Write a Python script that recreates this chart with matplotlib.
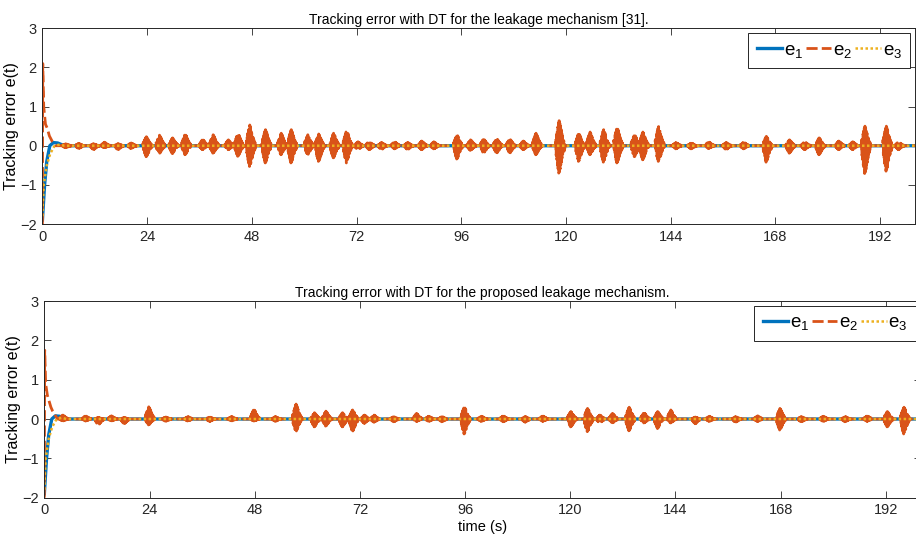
import numpy as np
import matplotlib
matplotlib.use("Agg")
import matplotlib.pyplot as plt

plt.rcParams['font.family'] = ['Liberation Sans', 'DejaVu Sans']
plt.rcParams['mathtext.fontset'] = 'custom'
plt.rcParams['mathtext.rm'] = 'Liberation Sans'
plt.rcParams['mathtext.it'] = 'Liberation Sans'

# colours (MATLAB default order)
c_blue = '#0072BD'
c_orange = '#D95319'
c_yellow = '#EDB120'

titles = ['Tracking error with DT for the leakage mechanism [31].',
          'Tracking error with DT for the proposed leakage mechanism.']
xticks = [0, 24, 48, 72, 96, 120, 144, 168, 192]
yticks = [-2, -1, 0, 1, 2, 3]

# start-up transients
e1_t = [0, 0.5, 1.0, 1.7, 2.5, 3.5, 5.0]
e1_v = [-1.9, -1.0, -0.4, 0.0, 0.08, 0.07, 0.0]
e3_t = [0, 0.3, 1.0, 1.8, 2.8, 4.0, 5.0]
e3_v = [-1.8, -1.0, -0.5, -0.2, 0.0, 0.03, 0.0]

top_e2_t = [0, 0.08, 0.3, 0.7, 1.1, 1.6, 2.3, 3.0]
top_e2_v = [-2.0, 2.1, 1.0, 0.55, 0.45, 0.25, 0.1, 0.0]
bot_e2_t = [0, 0.08, 0.3, 0.7, 1.1, 1.5, 1.9, 3.0]
bot_e2_v = [-2.0, 1.75, 0.9, 0.6, 0.45, 0.3, 0.2, 0.0]

# oscillation bursts of e2: centre time, upper peak, lower peak
top_burst_t = [5.6, 8.6, 12.0, 14.5, 17.6, 20.6, 24.1, 27.1, 30.1, 33.0, 37.0, 39.4,
               42.9, 45.1, 47.8, 51.4, 55.0, 57.3, 61.1, 63.6, 67.0, 70.0, 72.6, 75.2,
               78.0, 81.0, 84.0, 87.2, 90.0, 95.3, 98.4, 101.4, 104.4, 107.4, 110.5,
               113.4, 118.7, 123.2, 125.8, 128.9, 132.0, 136.0, 137.9, 141.5, 145.5,
               149.0, 153.0, 157.0, 161.0, 166.2, 171.5, 175.0, 178.3, 182.8, 186.0,
               188.8, 193.7, 196.5]
top_burst_hi = [0.05, 0.06, 0.05, 0.09, 0.05, 0.07, 0.23, 0.27, 0.2, 0.3, 0.16, 0.28,
                0.15, 0.32, 0.53, 0.41, 0.32, 0.41, 0.28, 0.3, 0.32, 0.39, 0.1, 0.12,
                0.08, 0.1, 0.08, 0.12, 0.1, 0.28, 0.15, 0.17, 0.18, 0.17, 0.12,
                0.32, 0.64, 0.32, 0.35, 0.41, 0.47, 0.28, 0.35, 0.49, 0.08,
                0.07, 0.1, 0.08, 0.09, 0.24, 0.15, 0.1, 0.2, 0.12, 0.1,
                0.5, 0.5, 0.1]
top_burst_lo = [0.05, 0.07, 0.1, 0.05, 0.1, 0.07, 0.28, 0.2, 0.2, 0.23, 0.1, 0.19,
                0.1, 0.27, 0.53, 0.44, 0.23, 0.44, 0.23, 0.4, 0.31, 0.44, 0.1, 0.1,
                0.1, 0.08, 0.1, 0.1, 0.08, 0.34, 0.12, 0.19, 0.19, 0.19, 0.1,
                0.23, 0.7, 0.4, 0.23, 0.42, 0.44, 0.28, 0.36, 0.4, 0.08,
                0.08, 0.07, 0.1, 0.08, 0.42, 0.19, 0.1, 0.23, 0.1, 0.1,
                0.71, 0.65, 0.1]

bot_burst_t = [4.5, 9.7, 12.6, 15.6, 18.5, 24.1, 28.0, 33.0, 38.0, 43.0, 48.1, 53.0,
               57.7, 61.9, 64.5, 68.3, 70.6, 73.3, 75.5, 80.0, 85.2, 88.0, 91.0,
               96.1, 100.0, 105.0, 110.0, 114.0, 120.4, 124.2, 127.0, 129.9, 133.7,
               137.1, 140.2, 143.2, 148.8, 152.0, 158.0, 163.0, 168.1, 173.0, 178.0,
               183.0, 188.0, 192.6, 196.4]
bot_burst_hi = [0.1, 0.08, 0.04, 0.08, 0.04, 0.31, 0.05, 0.06, 0.05, 0.06, 0.25, 0.06,
                0.38, 0.16, 0.2, 0.16, 0.23, 0.1, 0.1, 0.06, 0.14, 0.07, 0.06,
                0.31, 0.07, 0.08, 0.06, 0.08, 0.19, 0.27, 0.1, 0.14, 0.3,
                0.16, 0.19, 0.23, 0.05, 0.07, 0.06, 0.08, 0.27, 0.06, 0.07,
                0.06, 0.08, 0.19, 0.3]
bot_burst_lo = [0.05, 0.05, 0.15, 0.05, 0.12, 0.15, 0.06, 0.05, 0.06, 0.05, 0.05, 0.06,
                0.32, 0.2, 0.18, 0.2, 0.32, 0.11, 0.08, 0.07, 0.06, 0.06, 0.07,
                0.38, 0.06, 0.07, 0.08, 0.06, 0.2, 0.32, 0.1, 0.1, 0.3,
                0.1, 0.24, 0.1, 0.12, 0.06, 0.08, 0.06, 0.28, 0.07, 0.06,
                0.07, 0.06, 0.2, 0.38]

# relative peak sizes inside one burst (alternating up / down)
burst_shape = [0.3, 0.35, 0.45, 0.5, 0.6, 0.7, 0.75, 0.85, 0.9, 1.0, 1.0, 0.95,
               0.9, 0.85, 0.8, 0.7, 0.65, 0.6, 0.5, 0.45, 0.4, 0.35, 0.3, 0.25,
               0.2, 0.2, 0.15, 0.1]
burst_half = 1.1
t_end = 200


def build_e2(t0, v0, bt, hi, lo):
    t = list(t0)
    v = list(v0)
    n = len(burst_shape)
    for c, a, b in zip(bt, hi, lo):
        offs = np.linspace(-burst_half, burst_half, n + 2)
        t.append(c + offs[0])
        v.append(0.0)
        for k, w in enumerate(burst_shape):
            t.append(c + offs[k + 1])
            v.append(a * w if k % 2 == 0 else -b * w)
        t.append(c + offs[-1])
        v.append(0.0)
    t.append(t_end)
    v.append(0.0)
    return t, v


panels = [
    (titles[0], build_e2(top_e2_t, top_e2_v, top_burst_t, top_burst_hi, top_burst_lo),
     [0.0463, 0.5942, 0.9526, 0.3545]),
    (titles[1], build_e2(bot_e2_t, bot_e2_v, bot_burst_t, bot_burst_hi, bot_burst_lo),
     [0.0484, 0.0984, 0.957, 0.3563]),
]

fig = plt.figure(figsize=(9.16, 5.52), dpi=100)

for i, (title, (t2, v2), rect) in enumerate(panels):
    ax = fig.add_axes(rect)
    ax.plot(e1_t + [t_end], e1_v + [0.0], color=c_blue, lw=2.4, label='e$_1$')
    ax.plot(t2, v2, color=c_orange, lw=2.0, ls=(0, (4, 1.5)), label='e$_2$')
    ax.plot(e3_t + [t_end], e3_v + [0.0], color=c_yellow, lw=1.8, ls=(0, (1, 1)), label='e$_3$')

    ax.set_xlim(0, t_end)
    ax.set_ylim(-2, 3)
    ax.set_xticks(xticks)
    ax.set_yticks(yticks)
    ax.tick_params(direction='in', top=True, right=True, length=5, width=0.6,
                   labelsize=10.5, colors='#262626', pad=4)
    for s in ax.spines.values():
        s.set_color('#262626')
        s.set_linewidth(0.7)
    ax.set_title(title, fontsize=10, pad=3)
    ax.set_ylabel('Tracking error e(t)', fontsize=11.5, labelpad=1)
    if i == 1:
        ax.set_xlabel('time (s)', fontsize=10.5, labelpad=2)
    leg = ax.legend(loc='upper right', ncol=3, fontsize=13.5, handlelength=1.35,
                    handletextpad=0.1, columnspacing=0.15, borderpad=0.45,
                    borderaxespad=0.25, fancybox=False, framealpha=1)
    leg.get_frame().set_edgecolor('#262626')
    leg.get_frame().set_linewidth(0.7)

fig.savefig('out.png', dpi=100)
